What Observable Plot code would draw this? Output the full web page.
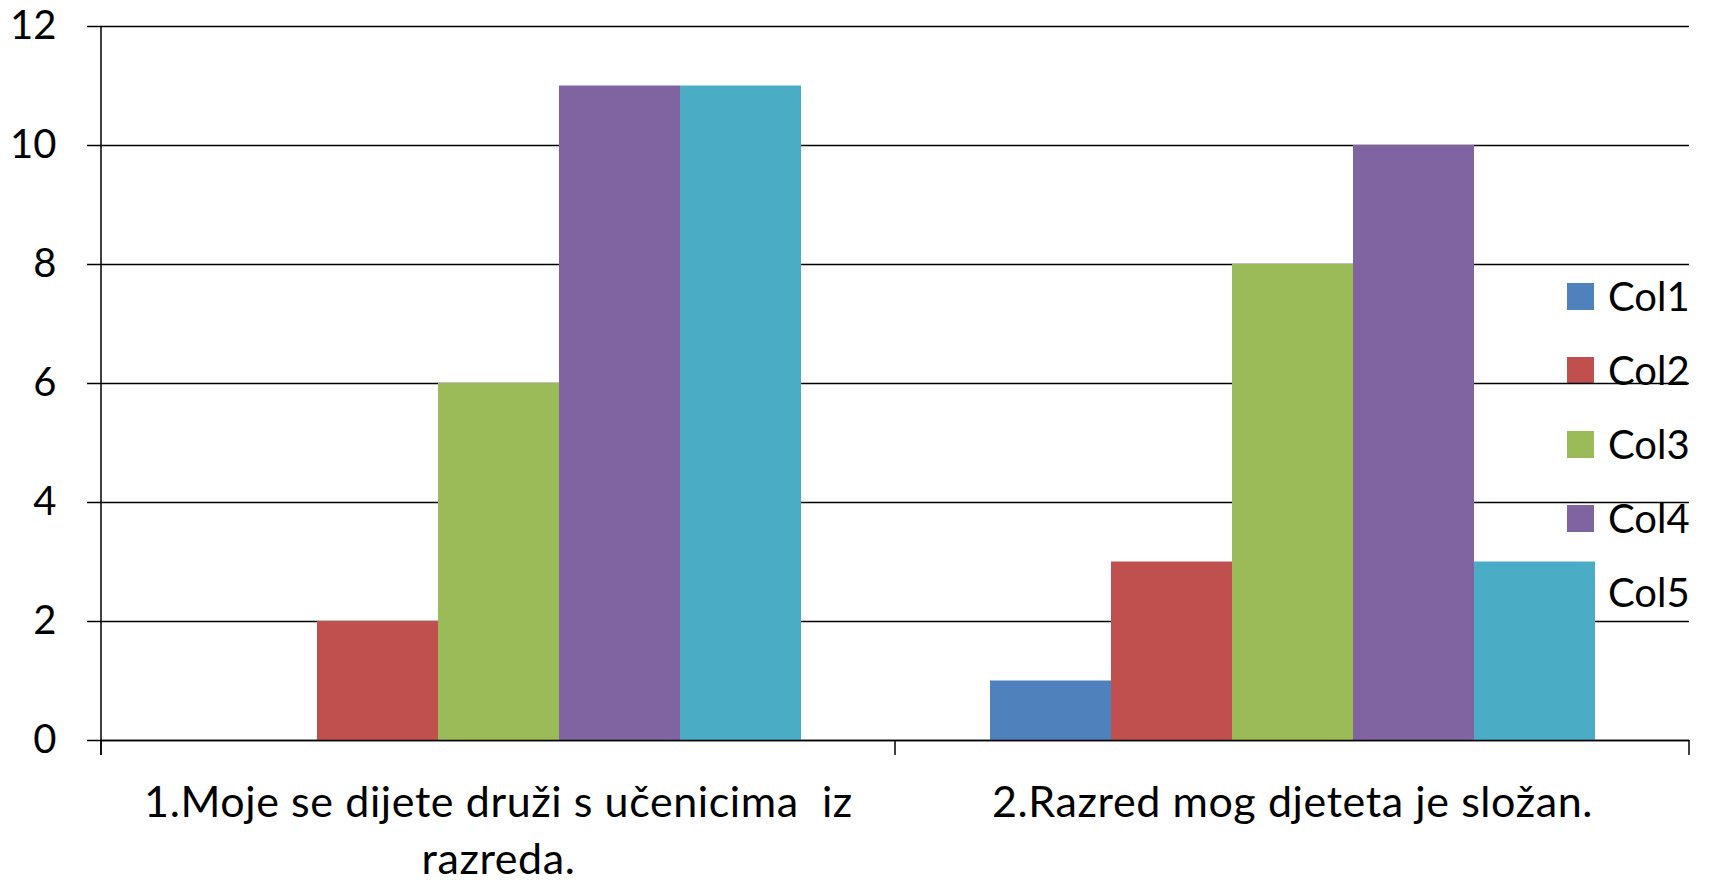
<!DOCTYPE html>
<html><head><meta charset="utf-8">
<script src="https://cdn.jsdelivr.net/npm/d3@7"></script>
<script src="https://cdn.jsdelivr.net/npm/@observablehq/plot@0.6"></script>
<style>
body{margin:0;background:#fff;}
#wrap{position:relative;width:1713px;height:882px;overflow:hidden;}
#legend{position:absolute;left:1567px;top:259px;z-index:0;font-family:Lato,"Open Sans",sans-serif;font-size:40px;color:#000;}
.item{display:flex;align-items:center;height:74px;}
.sw{width:27px;height:27px;margin-right:14px;}
#chart{position:absolute;left:0;top:0;z-index:1;}
</style></head>
<body><div id="wrap"><div id="legend"></div><div id="chart"></div></div>
<script>
const categories = ["1.Moje se dijete druži s učenicima  iz razreda.", "2.Razred mog djeteta je složan."];
const categoryLabels = ["1.Moje se dijete druži s učenicima  iz\nrazreda.", "2.Razred mog djeteta je složan."];
const series = ["Col1", "Col2", "Col3", "Col4", "Col5"];
const values1 = [0, 2, 6, 11, 11];
const values2 = [1, 3, 8, 10, 3];
const colors = ["#4F81BD", "#C0504D", "#9BBB59", "#8064A2", "#4BACC6"];
const yTicks = [0, 2, 4, 6, 8, 10, 12];

const data = [];
[values1, values2].forEach((vals, i) => vals.forEach((v, j) => data.push({category: categories[i], series: series[j], value: v})));

const chart = Plot.plot({
  width: 1713, height: 882,
  marginLeft: 100, marginRight: 24, marginTop: 26, marginBottom: 142,
  style: {fontFamily: "Lato, 'Open Sans', sans-serif", fontSize: "40px", background: "transparent", color: "#000", overflow: "visible"},
  fx: {domain: categories, padding: 0, axis: null, label: null},
  x: {domain: series, paddingInner: 0, paddingOuter: 0.758, axis: null, label: null},
  y: {domain: [0, 12], axis: null, label: null},
  color: {domain: series, range: colors},
  marks: [
    Plot.ruleY(yTicks, {stroke: "#000", strokeWidth: 1.5}),
    Plot.barY(data, {fx: "category", x: "series", y: "value", fill: "series"}),
    Plot.ruleY([0], {stroke: "#000", strokeWidth: 1.5}),
    Plot.axisY({ticks: yTicks, tickSize: 14, tickPadding: 31, fontSize: 40, label: null, strokeWidth: 1.5}),
    Plot.axisFx({anchor: "bottom", tickSize: 0, tickPadding: 36, fontSize: 43, lineHeight: 1.32, label: null,
      tickFormat: d => categoryLabels[categories.indexOf(d)]})
  ]
});
document.getElementById("chart").appendChild(chart);

d3.select(chart).selectAll('g[aria-label="fx-axis tick label"] text').style("letter-spacing", "0.6px");

// axis line and category boundary ticks from the plot's own scales
const fx = chart.scale("fx"), y = chart.scale("y");
const fxApply = fx.apply ? fx.apply : d3.scaleBand(fx.domain, fx.range).padding(0);
const bw = fx.bandwidth;
const y0 = y.apply(0), yTop = y.apply(12);
const edges = categories.map(c => fxApply(c)).concat([fxApply(categories[categories.length - 1]) + bw]);
const svg = d3.select(chart);
const g = svg.append("g").attr("stroke", "#000").attr("stroke-width", 1.5);
g.append("line").attr("x1", edges[0]).attr("x2", edges[0]).attr("y1", yTop).attr("y2", y0 + 15);
edges.forEach(e => g.append("line").attr("x1", e).attr("x2", e).attr("y1", y0).attr("y2", y0 + 15));

// legend
const legend = d3.select("#legend");
series.forEach((s, i) => {
  const it = legend.append("div").attr("class", "item");
  it.append("div").attr("class", "sw").style("background", colors[i]);
  it.append("span").text(s);
});
</script>
</body></html>
